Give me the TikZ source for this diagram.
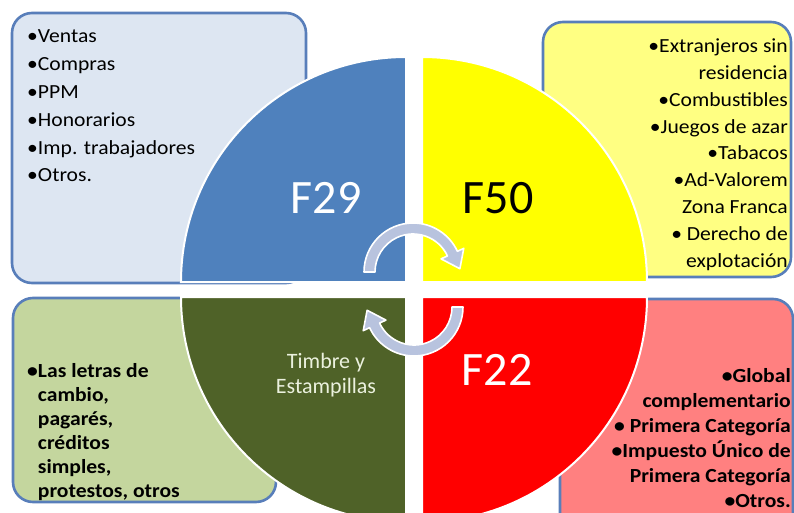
\documentclass[tikz,border=0pt]{standalone}
\usepackage{fontspec}
\setmainfont{Carlito}
\definecolor{bordblue}{RGB}{88,126,186}
\definecolor{tlfill}{RGB}{221,230,242}
\definecolor{trfill}{RGB}{255,255,130}
\definecolor{blfill}{RGB}{196,214,158}
\definecolor{brfill}{RGB}{255,128,128}
\definecolor{qblue}{RGB}{79,129,189}
\definecolor{qyellow}{RGB}{255,255,0}
\definecolor{qgreen}{RGB}{79,98,40}
\definecolor{qred}{RGB}{255,0,0}
\definecolor{arrowfill}{RGB}{184,195,222}
\definecolor{timbretext}{RGB}{235,241,222}
\tikzset{
  infobox/.style={draw=bordblue, line width=2.6pt, rounded corners=20pt},
  quad/.style={draw=white, line width=2pt},
  cyclearrow/.style={fill=arrowfill, draw=white, line width=1.6pt, line join=round},
  biglabel/.style={font=\fontsize{48}{50}\selectfont, inner sep=0pt, anchor=base},
  listtext/.style={inner sep=0pt, text=black, xscale=1.08, transform shape},
}
\begin{document}
\begin{tikzpicture}[x=1pt,y=-1pt]
\clip (0,0) rectangle (794,513);
\fill[white] (0,0) rectangle (794,513);
% background boxes
\path[infobox, fill=tlfill] (12,13) rectangle (306,283);
\path[infobox, fill=trfill] (543,22) rectangle (791,277);
\path[infobox, fill=blfill] (13,298) rectangle (276,502);
\path[infobox, fill=brfill] (560,299) rectangle (793,560);
% quadrants
\path[quad, fill=qblue] (406,282) -- (181,282) arc[start angle=180, end angle=270, radius=225] -- cycle;
\path[quad, fill=qyellow] (422,282) -- (422,57) arc[start angle=270, end angle=360, radius=225] -- cycle;
\path[quad, fill=qgreen] (406,297) -- (406,522) arc[start angle=90, end angle=180, radius=225] -- cycle;
\path[quad, fill=qred] (422,297) -- (647,297) arc[start angle=0, end angle=90, radius=225] -- cycle;
% cycle arrows
\begin{scope}[shift={(413,272)}]
\path[cyclearrow] (180:49) arc[start angle=180, end angle=335, radius=49] -- (335:56) -- (356:47) -- (335:31) -- (335:38) arc[start angle=335, end angle=180, radius=38] -- cycle;
\end{scope}
\begin{scope}[shift={(414,307)}]
\path[cyclearrow] (0:49) arc[start angle=0, end angle=155, radius=49] -- (155:56) -- (176:47) -- (155:31) -- (155:38) arc[start angle=155, end angle=0, radius=38] -- cycle;
\end{scope}
% quadrant labels
\node[biglabel, text=white] (f29) at (326,213) {F29};
\node[biglabel, text=black] (f50) at (498,213) {F50};
\node[biglabel, text=white] (f22) at (497,385) {F22};
\node[inner sep=0pt, anchor=base, align=center, text=timbretext, font=\fontsize{22}{25}\selectfont] (timbre) at (326,393) {Timbre y\\Estampillas};
% list texts (anchor = baseline of last line)
\node[listtext, anchor=base west, align=left, font=\fontsize{20}{27.8}\selectfont] (tltext) at (27,182)
  {•Ventas\\•Compras\\•PPM\\•Honorarios\\•Imp. trabajadores\\•Otros.};
\node[listtext, anchor=base east, align=right, font=\fontsize{20}{26.8}\selectfont] (trtext) at (788,267)
  {•Extranjeros sin\\residencia\\•Combustibles\\•Juegos de azar\\•Tabacos\\•Ad-Valorem\\Zona Franca\\• Derecho de\\explotación};
\node[listtext, anchor=base west, align=left, font=\bfseries\fontsize{20}{24}\selectfont] (bltext) at (27,497)
  {•Las letras de\\\phantom{•}cambio,\\\phantom{•}pagarés,\\\phantom{•}créditos\\\phantom{•}simples,\\\phantom{•}protestos, otros};
\node[listtext, anchor=base east, align=right, font=\bfseries\fontsize{20}{25}\selectfont] (brtext) at (791,507)
  {•Global\\complementario\\• Primera Categoría\\•Impuesto Único de\\Primera Categoría\\•Otros.};
\end{tikzpicture}
\end{document}
